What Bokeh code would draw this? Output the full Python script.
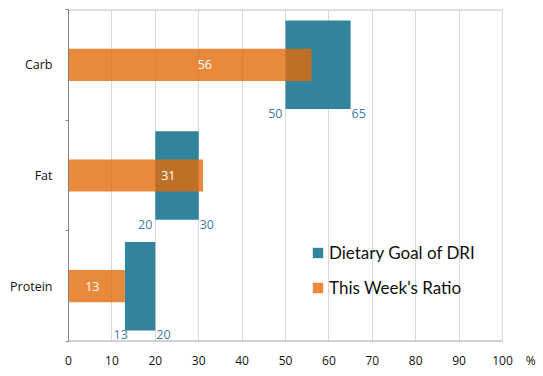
from bokeh.plotting import figure
from bokeh.models import (Range1d, FixedTicker, ColumnDataSource, Legend,
                          LegendItem)
from bokeh.embed import file_html
from bokeh.resources import INLINE

# ---- data ----
categories = ["Protein", "Fat", "Carb"]
goal_low = [13, 20, 50]
goal_high = [20, 30, 65]
ratio = [13, 31, 56]
ratio_label_pos = [5.5, 23, 31.4]
low_label_dx = [3, -3, -3]
x_ticks = list(range(0, 101, 10))
unit_label = "%"
unit_label_pos = 106.5
x_view_max = 109.45

TEAL = "#31849B"
ORANGE = "#E46C0A"
LABEL_BLUE = "#3B7EA1"
FONT = "Open Sans"
LEGEND_FONT = "Lato"

y_centers = [i + 0.5 for i in range(len(categories))]
goal_h = 0.8
ratio_h = 0.29

src = ColumnDataSource(dict(
    y=y_centers,
    y_bottom=[y - goal_h / 2 for y in y_centers],
    low=goal_low,
    high=goal_high,
    ratio=ratio,
    label_pos=ratio_label_pos,
    low_txt=[str(v) for v in goal_low],
    high_txt=[str(v) for v in goal_high],
    ratio_txt=[str(v) for v in ratio],
    dx=low_label_dx,
))

p = figure(width=543, height=376, x_range=Range1d(0, x_view_max),
           y_range=Range1d(0, len(categories)),
           output_backend="svg", toolbar_location=None,
           min_border_left=68, min_border_right=0, min_border_top=9,
           min_border_bottom=35)
p.outline_line_color = None
p.background_fill_color = "white"
p.border_fill_color = "white"

# frame lines (top border and bottom axis line, limited to 0..100)
p.segment(x0=[x_ticks[0], x_ticks[0]], x1=[x_ticks[-1], x_ticks[-1]],
          y0=[0, len(categories)], y1=[0, len(categories)],
          line_color=["#A6A6A6", "#BFBFBF"], line_width=2)

teal = p.hbar(y="y", left="low", right="high", height=goal_h, source=src,
              fill_color=TEAL, line_color=None)
orange = p.hbar(y="y", left=0, right="ratio", height=ratio_h, source=src,
                fill_color=ORANGE, fill_alpha=0.8, line_color=None)

p.text(x="label_pos", y="y", text="ratio_txt", source=src, text_align="center",
       text_baseline="middle", text_color="white", text_font_size="12.5px",
       text_font={"value": FONT})
p.text(x="low", y="y_bottom", text="low_txt", source=src, text_align="right",
       text_baseline="top", x_offset="dx", text_color=LABEL_BLUE,
       text_font_size="12.5px", text_font={"value": FONT})
p.text(x="high", y="y_bottom", text="high_txt", source=src, text_align="left",
       text_baseline="top", x_offset=1, text_color=LABEL_BLUE,
       text_font_size="12.5px", text_font={"value": FONT})

# x axis
p.xaxis.ticker = FixedTicker(ticks=x_ticks + [unit_label_pos])
p.xaxis.major_label_overrides = {unit_label_pos: unit_label}
p.xaxis.major_tick_line_color = None
p.xaxis.minor_tick_line_color = None
p.xaxis.major_tick_out = 0
p.xaxis.major_tick_in = 0
p.xaxis.axis_line_color = None
p.xaxis.major_label_standoff = 10
p.xaxis.major_label_text_font_size = "12px"
p.xaxis.major_label_text_font = FONT
p.xaxis.major_label_text_font_style = "normal"
p.xaxis.major_label_text_color = "#111111"

# y axis
p.yaxis.ticker = FixedTicker(ticks=y_centers, minor_ticks=list(range(len(categories) + 1)))
p.yaxis.major_label_overrides = {y: c for y, c in zip(y_centers, categories)}
p.yaxis.major_tick_line_color = None
p.yaxis.major_tick_out = 0
p.yaxis.major_tick_in = 0
p.yaxis.minor_tick_out = 3
p.yaxis.minor_tick_in = 0
p.yaxis.minor_tick_line_color = "#868686"
p.yaxis.axis_line_color = "#868686"
p.yaxis.major_label_standoff = 13
p.yaxis.major_label_text_font_size = "12.5px"
p.yaxis.major_label_text_font = FONT
p.yaxis.major_label_text_font_style = "normal"
p.yaxis.major_label_text_color = "#111111"

p.xgrid.ticker = FixedTicker(ticks=x_ticks)
p.xgrid.grid_line_color = "#D9D9D9"
p.ygrid.grid_line_color = None

legend = Legend(items=[LegendItem(label="Dietary Goal of DRI", renderers=[teal]),
                       LegendItem(label="This Week's Ratio", renderers=[orange])],
                location=(243, 43), padding=0, margin=0, spacing=13,
                glyph_width=13, glyph_height=13, label_height=22,
                label_standoff=5, border_line_color=None,
                background_fill_alpha=0, label_text_font_size="17px",
                label_text_font=LEGEND_FONT, label_text_color="#111111")
p.add_layout(legend)

open("out.html", "w").write(file_html(p, INLINE))
